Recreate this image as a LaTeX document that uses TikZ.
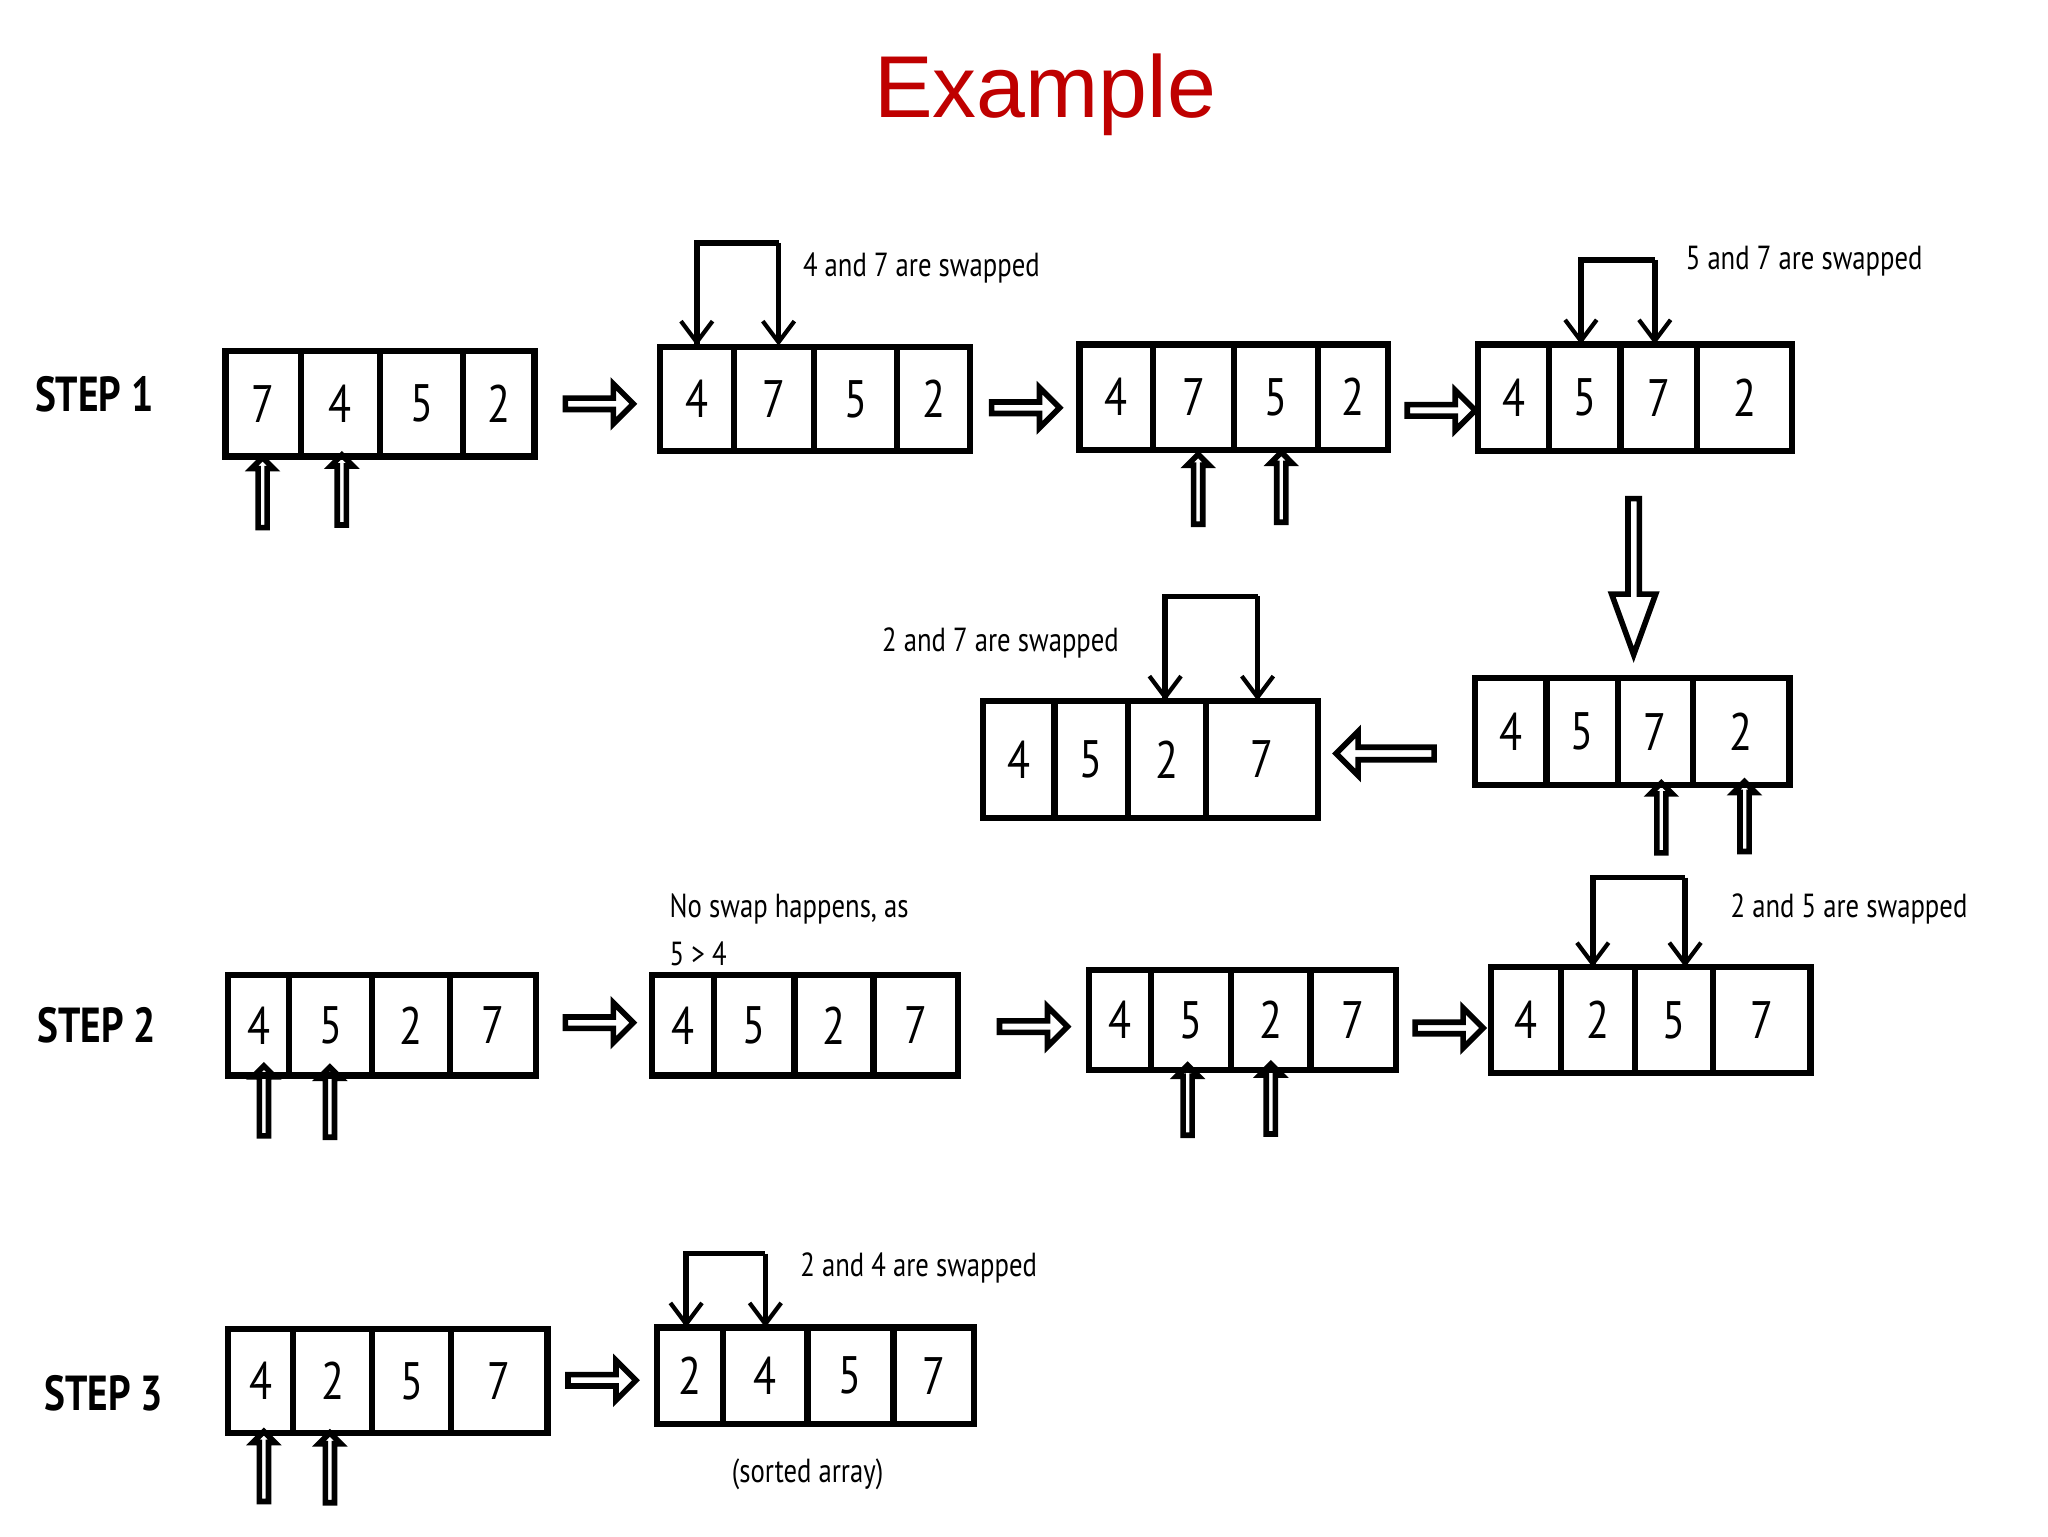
\documentclass[tikz,border=0pt]{standalone}
\usepackage{fontspec}
\setmainfont{Liberation Sans}
\newfontfamily\cond{PT Sans}[FakeStretch=0.8]
\usetikzlibrary{shapes.arrows,arrows.meta}
\tikzset{
  num/.style={font=\cond\fontsize{15}{15}\selectfont},
  lbl/.style={font=\cond\fontsize{9.5}{11}\selectfont, anchor=west, inner sep=0},
  steplbl/.style={font=\cond\bfseries\fontsize{14}{14}\selectfont, anchor=west, inner sep=0},
  cellbox/.style={draw, line width=1.8pt},
  blk/.style={single arrow, draw, line width=1.6pt, inner sep=0pt, single arrow head extend=0.07cm},
  swp/.style={line width=1.6pt, -{Straight Barb[length=6pt,width=9pt,line width=1.2pt]}},
}
\newcommand\myarr[4]{%
  \foreach \a/\b/\v in {#4}{%
    \draw[cellbox] (\a,#2) rectangle (\b,#3);
    \node[num] (#1-\v) at ({(\a+\b)/2},{(#2+#3)/2}) {\v};
  }}
\newcommand\uparr[4]{\node[blk, rotate=90, minimum height=0.70cm, minimum width=0.22cm, single arrow head extend=0.04cm] (#1) at (#2,{(#3+#4)/2}) {};}
\newcommand\rarr[3]{\node[blk, minimum height=0.68cm, minimum width=0.40cm] (#1) at (#2,#3) {};}
\newcommand\swap[5]{\coordinate (#1-t1) at (#2,#4); \coordinate (#1-t2) at (#3,#4);
  \coordinate (#1-b1) at (#2,#5); \coordinate (#1-b2) at (#3,#5);
  \draw[line width=1.6pt] (#1-b1) -- (#1-t1) -- (#1-t2);
  \draw[swp] (#1-t1) -- (#1-b1); \draw[swp] (#1-t2) -- (#1-b2);}
\begin{document}
\begin{tikzpicture}[x=0.0132cm,y=-0.0132cm]
\path[use as bounding box, fill=white] (0,0) rectangle (1552,1164);
\node[text=red!75!black, font=\fontsize{25}{25}\selectfont] (title) at (792,72) {Example};
\node[steplbl] (s1) at (26,299) {STEP 1};
\node[steplbl] (s2) at (28,777) {STEP 2};
\node[steplbl] (s3) at (33,1056) {STEP 3};
\myarr{a1}{266}{346}{171/228/7,228/288/4,288/351/5,351/405/2}
\myarr{a2}{263}{342}{500/556/4,556/617/7,617/680/5,680/735/2}
\myarr{a3}{261}{341}{818/874/4,874/935/7,935/999/5,999/1052/2}
\myarr{a4}{261}{342}{1120/1174/4,1174/1228/5,1228/1286/7,1286/1358/2}
\myarr{a5}{514}{595}{1118/1172/4,1172/1226/5,1226/1283/7,1283/1356/2}
\myarr{a6}{531}{620}{745/799/4,799/855/5,855/914/2,914/999/7}
\myarr{b1}{739}{815}{173/219/4,219/282/5,282/341/2,341/406/7}
\myarr{b2}{739}{815}{494/541/4,541/602/5,602/662/2,662/726/7}
\myarr{b3}{735}{811}{825/872/4,872/933/5,933/993/2,993/1058/7}
\myarr{b4}{733}{813}{1130/1183/4,1183/1239/2,1239/1298/5,1298/1372/7}
\myarr{c1}{1007}{1086}{173/222/4,222/282/2,282/342/5,342/415/7}
\myarr{c2}{1006}{1079}{498/548/2,548/612/4,612/677/5,677/738/7}
\rarr{r1}{452}{306}
\rarr{r2}{775}{309}
\rarr{r3}{1090}{311}
\node[blk, rotate=-90, minimum height=1.56cm, minimum width=0.44cm, single arrow head extend=0.08cm, single arrow tip angle=40] (dn) at (1238,431) {};
\node[blk, rotate=180, minimum height=0.98cm, minimum width=0.44cm] (lf) at (1052,571) {};
\rarr{r4}{452}{775}
\rarr{r5}{781}{778}
\rarr{r6}{1096}{779}
\rarr{r7}{454}{1046}
\uparr{u1}{199}{348}{402}
\uparr{u2}{259}{348}{398}
\uparr{u3}{908}{343}{402}
\uparr{u4}{971}{343}{399}
\uparr{u5}{1259}{597}{646}
\uparr{u6}{1322}{597}{644}
\uparr{u7}{200}{817}{855}
\uparr{u8}{250}{817}{857}
\uparr{u9}{900}{813}{858}
\uparr{u10}{963}{813}{856}
\uparr{u11}{200}{1090}{1136}
\uparr{u12}{250}{1090}{1138}
\swap{w1}{528}{590}{184}{262}
\swap{w2}{1198}{1254}{197}{261}
\swap{w3}{883}{953}{452}{531}
\swap{w4}{1207}{1277}{665}{733}
\swap{w5}{520}{580}{950}{1006}
\node[lbl] (l1) at (608,203) {4 and 7 are swapped};
\node[lbl] (l2) at (1277,198) {5 and 7 are swapped};
\node[lbl] (l3) at (668,487) {2 and 7 are swapped};
\node[lbl] (l4) at (1311,689) {2 and 5 are swapped};
\node[lbl] (l5) at (606,961) {2 and 4 are swapped};
\node[lbl] (l6) at (507,689) {No swap happens, as};
\node[lbl] (l7) at (507,723) {5 > 4};
\node[lbl, anchor=center] (l8) at (612,1117) {(sorted array)};
\end{tikzpicture}
\end{document}
